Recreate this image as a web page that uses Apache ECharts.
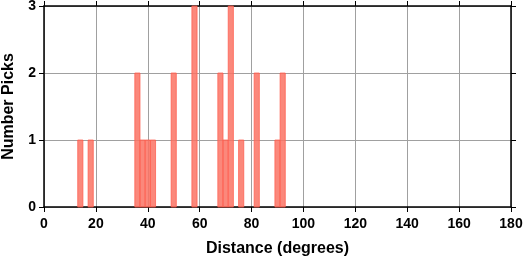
<!DOCTYPE html>
<html><head><meta charset="utf-8">
<script src="https://cdn.jsdelivr.net/npm/echarts@6/dist/echarts.min.js"></script>
<style>html,body{margin:0;padding:0;background:#fff}#c{width:523px;height:258px}</style>
</head><body><div id="c"></div>
<script>
const binCenters = [14, 18, 36, 38, 40, 42, 50, 58, 68, 70, 72, 76, 82, 90, 92];
const counts =     [1, 1, 2, 1, 1, 1, 2, 3, 2, 1, 3, 1, 2, 1, 2];
const binWidth = 2;
const xTicks = [0,20,40,60,80,100,120,140,160,180];
const yTicks = [0,1,2,3];

const chart = echarts.init(document.getElementById('c'), null, {renderer:'canvas'});
const font = 'Liberation Sans, Arial, Helvetica, sans-serif';
const axisCommon = {
  axisLine:{show:true,onZero:false,lineStyle:{color:'#000',width:1.5}},
  axisTick:{show:true,length:5,inside:false,lineStyle:{color:'#000',width:1}},
};
chart.setOption({
  animation:false,
  grid:{left:44,right:12,top:6,bottom:51,containLabel:false,outerBoundsMode:'none'},
  xAxis:[
    Object.assign({type:'value',min:0,max:180,interval:20,position:'bottom',
      name:'Distance (degrees)',nameLocation:'middle',nameGap:34,
      nameTextStyle:{fontFamily:font,fontWeight:'bold',fontSize:16,color:'#000'},
      axisLabel:{fontFamily:font,fontWeight:'bold',fontSize:14,color:'#000',margin:10},
      splitLine:{show:true,lineStyle:{color:'#a0a0a0',width:1}}},axisCommon),
    Object.assign({type:'value',min:0,max:180,interval:20,position:'top',
      axisLabel:{show:false},splitLine:{show:false}},axisCommon)
  ],
  yAxis:[
    Object.assign({type:'value',min:0,max:3,interval:1,position:'left',
      name:'Number Picks',nameLocation:'middle',nameGap:27,
      nameTextStyle:{fontFamily:font,fontWeight:'bold',fontSize:16,color:'#000'},
      axisLabel:{fontFamily:font,fontWeight:'bold',fontSize:14,color:'#000',margin:8},
      splitLine:{show:true,lineStyle:{color:'#a0a0a0',width:1}}},axisCommon),
    Object.assign({type:'value',min:0,max:3,interval:1,position:'right',
      axisLabel:{show:false},splitLine:{show:false}},axisCommon)
  ],
  series:[{
    type:'custom',
    data: binCenters.map((c,i)=>[c,counts[i]]),
    renderItem:function(params, api){
      const x = api.value(0), y = api.value(1);
      const p0 = api.coord([x - binWidth/2, y]);
      const p1 = api.coord([x + binWidth/2, 0]);
      return {type:'rect',
        shape:{x:p0[0],y:p0[1],width:p1[0]-p0[0],height:p1[1]-p0[1]},
        style:{fill:'rgba(250,115,100,0.85)',stroke:'rgba(255,90,75,0.9)',lineWidth:0.8}};
    },
    z:1
  }]
});
</script></body></html>
